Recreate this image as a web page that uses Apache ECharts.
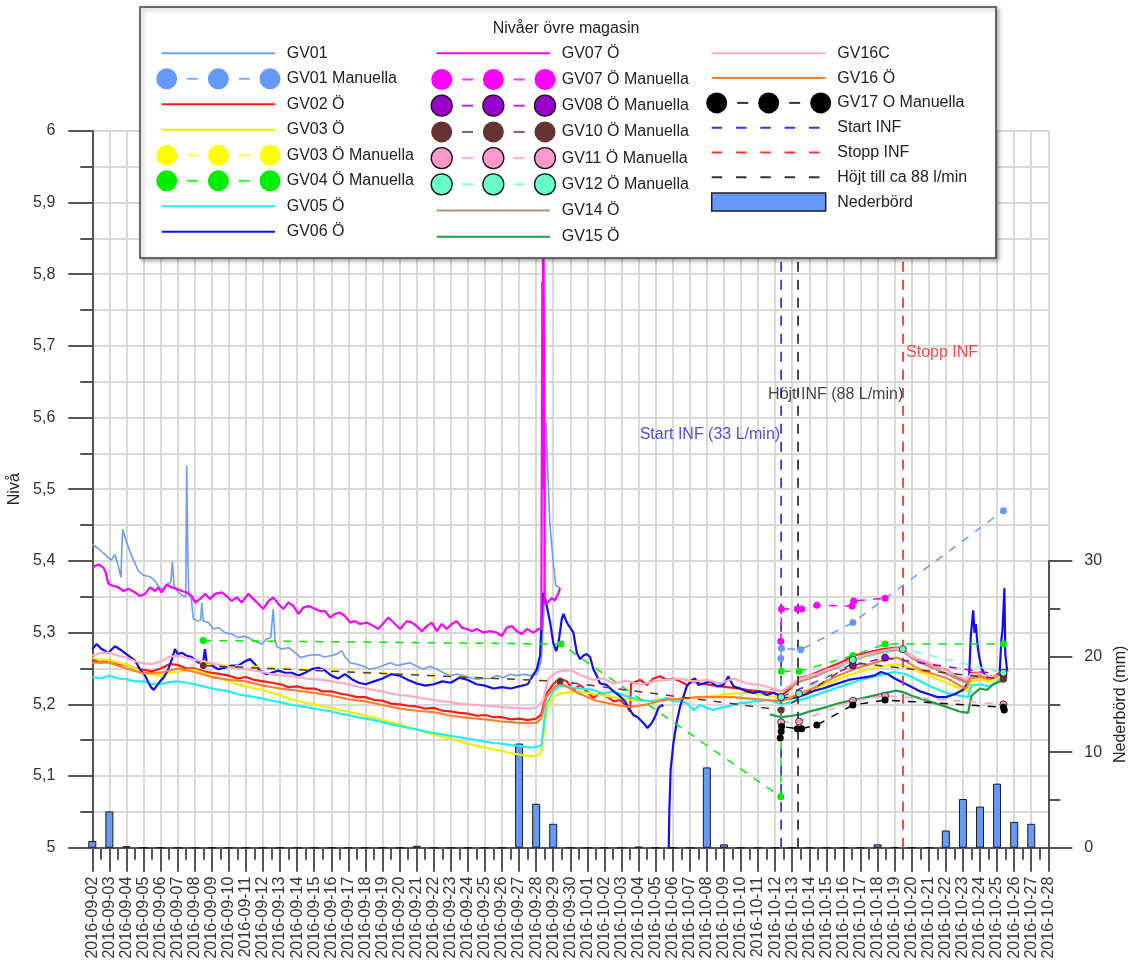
<!DOCTYPE html>
<html>
<head>
<meta charset="utf-8">
<title>Nivåer övre magasin</title>
<script src="https://cdn.jsdelivr.net/npm/echarts@6/dist/echarts.min.js"></script>
<style>
  html, body { margin: 0; padding: 0; background: #ffffff; }
  #chart { width: 1130px; height: 966px; }
</style>
</head>
<body>
<div id="chart"></div>
<script>
// Time axis: days since 2016-09-02 00:00, one tick per day up to 2016-10-28
const START_DATE = Date.UTC(2016, 8, 2);
const DAY_COUNT = 56;

// ---- Logger series: [day, level (m)] ----
const gv01 = [[0,5.423],[0.3,5.418],[0.74,5.409],[1.1,5.401],[1.33,5.409],[1.52,5.393],[1.68,5.377],[1.72,5.41],[1.78,5.444],[2.01,5.426],[2.3,5.407],[2.7,5.386],[2.99,5.38],[3.38,5.378],[3.67,5.372],[3.96,5.361],[4.2,5.362],[4.36,5.367],[4.6,5.37],[4.69,5.399],[4.8,5.363],[5.05,5.356],[5.33,5.351],[5.47,5.35],[5.53,5.533],[5.6,5.4],[5.65,5.352],[5.78,5.351],[5.92,5.319],[6.21,5.316],[6.35,5.318],[6.41,5.342],[6.5,5.316],[6.8,5.314],[7.09,5.305],[7.4,5.307],[7.77,5.3],[8.16,5.298],[8.55,5.293],[8.85,5.295],[9.14,5.293],[9.53,5.288],[9.92,5.284],[10.21,5.291],[10.45,5.293],[10.6,5.333],[10.7,5.29],[10.8,5.281],[11.09,5.277],[11.5,5.279],[11.88,5.272],[12.2,5.265],[12.46,5.267],[12.9,5.269],[13.24,5.269],[13.6,5.266],[14.02,5.268],[14.32,5.27],[14.61,5.275],[14.8,5.266],[15.1,5.258],[15.49,5.256],[15.88,5.253],[16.27,5.249],[16.66,5.251],[17.05,5.254],[17.44,5.258],[17.83,5.254],[18.22,5.256],[18.61,5.258],[19.0,5.253],[19.4,5.249],[19.79,5.253],[20.18,5.249],[20.57,5.244],[20.96,5.24],[21.35,5.242],[21.74,5.24],[22.13,5.237],[22.52,5.235],[22.91,5.236],[23.3,5.236],[23.69,5.24],[24.08,5.237],[24.47,5.242],[24.86,5.24],[25.25,5.242],[25.64,5.24],[26.04,5.242],[26.3,5.262],[26.45,5.33],[26.58,5.594],[26.7,5.513],[26.8,5.453],[27.0,5.397],[27.15,5.366],[27.4,5.362]];

const gv02 = [[0,5.262],[0.5,5.258],[1,5.262],[1.5,5.256],[2,5.255],[2.5,5.25],[3,5.248],[3.5,5.246],[4,5.25],[4.5,5.256],[5,5.255],[5.5,5.25],[6,5.25],[6.5,5.246],[7,5.244],[7.5,5.242],[8,5.24],[8.5,5.236],[9,5.238],[9.5,5.234],[10,5.232],[10.5,5.23],[11,5.228],[11.5,5.224],[12,5.225],[12.5,5.222],[13,5.222],[13.5,5.218],[14,5.218],[14.5,5.215],[15,5.213],[15.5,5.21],[16,5.21],[16.5,5.206],[17,5.205],[17.5,5.201],[18,5.2],[18.5,5.198],[19,5.197],[19.5,5.194],[20,5.195],[20.5,5.191],[21,5.19],[21.5,5.188],[22,5.187],[22.5,5.184],[23,5.185],[23.5,5.182],[24,5.182],[24.5,5.179],[25,5.18],[25.5,5.178],[26,5.18],[26.3,5.186],[26.6,5.215],[27,5.228],[27.4,5.236],[27.79,5.232],[28.18,5.22],[28.57,5.227],[28.96,5.218],[29.35,5.209],[29.74,5.216],[30.13,5.211],[30.53,5.204],[30.92,5.206],[31.31,5.197],[31.5,5.19],[31.56,5.229],[32.09,5.234],[32.48,5.227],[32.87,5.236],[33.26,5.239],[33.65,5.234],[34.04,5.236],[34.43,5.232],[34.82,5.227],[35.21,5.232],[35.6,5.229],[36.19,5.227],[36.78,5.225],[37.56,5.223],[38.34,5.22],[39.12,5.218],[39.9,5.216],[40.35,5.212],[40.8,5.22],[41.46,5.237],[42,5.24],[42.5,5.245],[43,5.25],[43.4,5.254],[44,5.26],[44.6,5.268],[45.4,5.272],[46.3,5.277],[47.1,5.279],[47.5,5.276],[47.9,5.268],[48.5,5.261],[49.3,5.254],[50.1,5.247],[50.8,5.236],[51.2,5.232],[51.45,5.244],[52,5.244],[52.5,5.238],[52.9,5.24],[53.2,5.244],[53.4,5.248],[53.6,5.246]];

const gv03 = [[0,5.265],[0.5,5.262],[1,5.262],[1.5,5.258],[2,5.255],[2.5,5.25],[3,5.245],[3.5,5.242],[4,5.24],[4.5,5.244],[5,5.245],[5.5,5.248],[6,5.248],[6.5,5.244],[7,5.24],[7.5,5.236],[8,5.232],[8.5,5.228],[9,5.225],[9.5,5.222],[10,5.22],[10.5,5.216],[11,5.213],[11.5,5.208],[12,5.205],[12.5,5.202],[13,5.2],[13.5,5.197],[14,5.195],[14.5,5.192],[15,5.19],[15.5,5.187],[16,5.184],[16.5,5.181],[17,5.178],[17.5,5.175],[18,5.172],[18.5,5.168],[19,5.165],[19.5,5.161],[20,5.158],[20.5,5.155],[21,5.152],[21.5,5.148],[22,5.145],[22.5,5.142],[23,5.14],[23.5,5.137],[24,5.135],[24.5,5.132],[25,5.13],[25.5,5.128],[26,5.128],[26.3,5.132],[26.6,5.19],[27,5.21],[27.4,5.215],[28.5,5.218],[29.5,5.214],[30.5,5.21],[31.5,5.206],[32.5,5.204],[33.5,5.208],[34.5,5.207],[35.5,5.21],[36.5,5.212],[37.5,5.215],[38.5,5.216],[39.5,5.213],[40.35,5.208],[41,5.212],[42,5.22],[43,5.228],[44,5.238],[45,5.246],[46,5.252],[47,5.256],[47.5,5.254],[48,5.25],[49,5.24],[50,5.23],[50.8,5.222],[51.3,5.218],[51.5,5.232],[52,5.235],[52.5,5.232],[53,5.236],[53.4,5.242],[53.6,5.243]];

const gv05 = [[0,5.238],[0.5,5.236],[1,5.24],[1.5,5.236],[2,5.235],[2.5,5.232],[3,5.232],[3.5,5.228],[4,5.228],[4.5,5.231],[5,5.232],[5.5,5.23],[6,5.228],[6.5,5.225],[7,5.222],[7.5,5.22],[8,5.218],[8.5,5.214],[9,5.212],[9.5,5.21],[10,5.208],[10.5,5.205],[11,5.203],[11.5,5.2],[12,5.198],[12.5,5.196],[13,5.194],[13.5,5.192],[14,5.19],[14.5,5.187],[15,5.185],[15.5,5.182],[16,5.18],[16.5,5.178],[17,5.175],[17.5,5.172],[18,5.17],[18.5,5.167],[19,5.165],[19.5,5.162],[20,5.16],[20.5,5.158],[21,5.156],[21.5,5.154],[22,5.152],[22.5,5.15],[23,5.148],[23.5,5.146],[24,5.145],[24.5,5.143],[25,5.142],[25.5,5.14],[26,5.14],[26.3,5.143],[26.6,5.2],[27,5.218],[27.4,5.226],[28.57,5.222],[29.35,5.22],[29.94,5.215],[30.53,5.218],[31.31,5.211],[32.09,5.206],[32.87,5.204],[33.26,5.206],[33.65,5.209],[34.04,5.204],[34.43,5.204],[34.82,5.202],[35.21,5.192],[35.6,5.199],[35.99,5.195],[36.38,5.192],[36.78,5.195],[37.17,5.197],[37.56,5.199],[37.95,5.202],[38.34,5.202],[38.73,5.204],[39.12,5.204],[39.51,5.206],[39.9,5.204],[40.35,5.2],[41,5.203],[42,5.21],[43,5.218],[44,5.226],[45,5.234],[46,5.24],[47,5.245],[47.5,5.243],[48,5.238],[49,5.226],[50,5.216],[50.8,5.212],[51.3,5.21],[51.5,5.226],[52,5.228],[52.5,5.225],[53,5.232],[53.4,5.24],[53.6,5.242]];

const gv06 = [[0,5.277],[0.25,5.284],[0.55,5.277],[0.94,5.272],[1.33,5.281],[1.72,5.275],[2.11,5.268],[2.5,5.261],[2.79,5.249],[3.09,5.24],[3.4,5.225],[3.6,5.22],[3.9,5.23],[4.2,5.238],[4.45,5.249],[4.65,5.262],[4.84,5.277],[5.0,5.27],[5.23,5.272],[5.5,5.268],[5.82,5.266],[6.21,5.258],[6.5,5.26],[6.6,5.277],[6.7,5.258],[7.0,5.254],[7.38,5.249],[7.77,5.251],[8.16,5.254],[8.55,5.254],[8.95,5.26],[9.24,5.263],[9.53,5.256],[9.82,5.247],[10.21,5.242],[10.5,5.244],[10.9,5.247],[11.29,5.244],[11.68,5.244],[12.07,5.24],[12.46,5.244],[12.85,5.249],[13.24,5.251],[13.63,5.247],[14.0,5.24],[14.4,5.236],[14.8,5.242],[15.2,5.235],[15.6,5.23],[16.0,5.228],[16.5,5.232],[17.0,5.236],[17.5,5.242],[18.0,5.24],[18.5,5.234],[19.0,5.229],[19.5,5.226],[20.0,5.228],[20.5,5.232],[21.0,5.23],[21.5,5.237],[22.0,5.234],[22.5,5.228],[23.0,5.226],[23.5,5.222],[24.0,5.224],[24.5,5.222],[25.0,5.225],[25.5,5.228],[26.04,5.249],[26.23,5.268],[26.39,5.355],[26.5,5.35],[26.62,5.337],[26.82,5.314],[27.0,5.286],[27.17,5.274],[27.3,5.284],[27.5,5.319],[27.6,5.326],[27.8,5.314],[27.99,5.307],[28.18,5.3],[28.38,5.272],[28.57,5.263],[28.77,5.268],[28.96,5.27],[29.16,5.266],[29.35,5.249],[29.55,5.24],[29.74,5.229],[30.13,5.227],[30.53,5.218],[30.92,5.211],[31.21,5.204],[31.5,5.192],[31.7,5.185],[31.99,5.181],[32.28,5.174],[32.52,5.167],[32.77,5.174],[32.97,5.183],[33.16,5.195],[33.36,5.199],[33.45,5.197],[33.6,'-'],[33.74,4.96],[33.8,5.05],[33.88,5.11],[34.04,5.146],[34.24,5.176],[34.43,5.197],[34.63,5.211],[34.82,5.225],[35.11,5.234],[35.31,5.236],[35.5,5.227],[35.8,5.229],[36.19,5.232],[36.58,5.225],[36.97,5.227],[37.26,5.239],[37.36,5.234],[37.56,5.225],[37.95,5.222],[38.34,5.218],[38.73,5.216],[39.12,5.218],[39.51,5.213],[39.9,5.216],[40.3,5.212],[40.8,5.208],[41.3,5.21],[41.8,5.214],[42.3,5.219],[42.8,5.222],[43.3,5.226],[43.8,5.23],[44.3,5.234],[44.8,5.236],[45.3,5.238],[45.8,5.24],[46.2,5.245],[46.6,5.242],[47.0,5.236],[47.5,5.23],[48.0,5.224],[48.5,5.218],[49.0,5.214],[49.5,5.21],[50.0,5.21],[50.5,5.214],[51.0,5.22],[51.35,5.232],[51.46,5.295],[51.6,5.331],[51.68,5.3],[51.75,5.312],[51.88,5.277],[51.98,5.263],[52.1,5.25],[52.3,5.24],[52.6,5.236],[52.9,5.238],[53.15,5.244],[53.25,5.29],[53.32,5.305],[53.43,5.362],[53.48,5.27],[53.6,5.245]];

const gv07 = [[0,5.391],[0.35,5.395],[0.64,5.391],[0.78,5.384],[0.94,5.368],[1.23,5.365],[1.52,5.363],[1.82,5.358],[2.11,5.361],[2.5,5.356],[2.79,5.351],[3.09,5.354],[3.38,5.363],[3.67,5.358],[3.87,5.363],[4.06,5.356],[4.36,5.367],[4.65,5.363],[4.94,5.361],[5.23,5.358],[5.53,5.356],[5.82,5.351],[6.02,5.342],[6.31,5.347],[6.6,5.354],[6.89,5.347],[7.19,5.354],[7.58,5.356],[7.87,5.351],[8.16,5.344],[8.46,5.349],[8.75,5.342],[9.14,5.354],[9.43,5.347],[9.73,5.34],[10.02,5.333],[10.31,5.344],[10.6,5.349],[10.9,5.34],[11.19,5.333],[11.48,5.342],[11.78,5.337],[12.07,5.326],[12.36,5.335],[12.66,5.337],[13.05,5.333],[13.34,5.33],[13.63,5.33],[13.93,5.321],[14.22,5.326],[14.51,5.328],[14.8,5.323],[15.1,5.314],[15.39,5.316],[15.68,5.312],[16.07,5.314],[16.47,5.309],[16.76,5.305],[17.15,5.316],[17.34,5.321],[17.64,5.314],[18.03,5.305],[18.42,5.316],[18.71,5.314],[19.0,5.309],[19.3,5.302],[19.59,5.309],[19.88,5.314],[20.18,5.302],[20.47,5.312],[20.76,5.305],[21.05,5.312],[21.35,5.316],[21.64,5.307],[21.93,5.305],[22.23,5.302],[22.52,5.305],[22.91,5.3],[23.3,5.302],[23.69,5.3],[23.98,5.295],[24.28,5.307],[24.57,5.309],[24.86,5.302],[25.16,5.298],[25.45,5.305],[25.84,5.3],[26.13,5.305],[26.3,5.305],[26.36,5.79],[26.38,5.5],[26.42,5.95],[26.5,5.34],[26.62,5.341],[26.91,5.348],[27.1,5.345],[27.3,5.355],[27.4,5.362]];

const gv14 = [[39.7,5.222],[40.35,5.218],[41,5.225],[41.46,5.232],[42,5.236],[42.5,5.24],[43,5.246],[43.5,5.25],[44,5.256],[44.6,5.262],[45.4,5.268],[46.3,5.273],[47.1,5.276],[47.5,5.273],[47.9,5.266],[48.5,5.258],[49.3,5.25],[50.1,5.242],[50.8,5.234],[51.2,5.23],[51.45,5.24],[52,5.24],[52.5,5.236],[52.9,5.238],[53.2,5.242],[53.4,5.245],[53.6,5.244]];

const gv15 = [[39.7,5.186],[40.35,5.182],[41,5.184],[41.5,5.186],[42,5.19],[42.5,5.193],[43,5.196],[43.5,5.2],[44,5.203],[44.6,5.206],[45.4,5.21],[46.3,5.215],[47.1,5.219],[47.5,5.217],[48,5.212],[48.5,5.208],[49.3,5.202],[50.1,5.196],[50.8,5.19],[51.3,5.188],[51.5,5.212],[52,5.222],[52.4,5.22],[52.8,5.228],[53.2,5.232],[53.4,5.236],[53.6,5.238]];

const gv16c = [[0,5.268],[0.5,5.272],[1,5.272],[1.5,5.268],[2,5.265],[2.5,5.26],[3,5.257],[3.5,5.256],[4,5.26],[4.5,5.266],[5,5.268],[5.5,5.265],[6,5.262],[6.5,5.26],[7,5.257],[7.5,5.255],[8,5.252],[8.5,5.25],[9,5.249],[9.5,5.247],[10,5.245],[10.5,5.242],[11,5.24],[11.5,5.24],[12,5.238],[12.5,5.236],[13,5.235],[13.5,5.234],[14,5.232],[14.5,5.23],[15,5.228],[15.5,5.225],[16,5.222],[16.5,5.22],[17,5.218],[17.5,5.215],[18,5.213],[18.5,5.212],[19,5.21],[19.5,5.208],[20,5.206],[20.5,5.204],[21,5.203],[21.5,5.201],[22,5.2],[22.5,5.199],[23,5.198],[23.5,5.197],[24,5.196],[24.5,5.195],[25,5.195],[25.5,5.194],[26,5.195],[26.4,5.205],[26.7,5.235],[27.2,5.245],[27.4,5.246],[28.0,5.248],[28.57,5.241],[29.35,5.234],[29.95,5.236],[30.53,5.229],[31.3,5.233],[32.09,5.227],[32.87,5.232],[33.65,5.234],[34.43,5.236],[35.21,5.232],[36.0,5.234],[36.78,5.229],[37.56,5.236],[38.34,5.229],[39.12,5.227],[39.9,5.222],[40.35,5.218],[40.8,5.225],[41.46,5.236],[42,5.24],[42.5,5.243],[43,5.248],[43.5,5.252],[44,5.257],[44.6,5.263],[45.4,5.27],[46.3,5.275],[47.1,5.278],[47.5,5.275],[47.9,5.268],[48.5,5.262],[49.3,5.255],[50.1,5.246],[50.8,5.238],[51.2,5.234],[51.45,5.242],[52,5.243],[52.5,5.238],[52.9,5.24],[53.2,5.243],[53.4,5.246],[53.6,5.245]];

const gv16 = [[0,5.258],[1,5.258],[2,5.25],[3,5.243],[4,5.244],[5,5.25],[6,5.245],[7,5.238],[8,5.234],[9,5.232],[10,5.226],[11,5.222],[12,5.219],[13,5.216],[14,5.212],[15,5.207],[16,5.204],[17,5.199],[18,5.194],[19,5.191],[20,5.189],[21,5.184],[22,5.181],[23,5.179],[24,5.176],[25,5.174],[26,5.174],[26.3,5.18],[26.6,5.21],[27,5.222],[27.4,5.23],[28.5,5.215],[29.5,5.205],[30.5,5.2],[31.5,5.196],[32.5,5.2],[33.5,5.206],[34.5,5.208],[35.5,5.21],[36.5,5.21],[37.5,5.21],[38.5,5.208],[39.5,5.206],[40.35,5.204],[41,5.21],[41.46,5.216],[42,5.22],[42.5,5.226],[43,5.232],[43.5,5.238],[44,5.243],[44.6,5.249],[45.4,5.255],[46.3,5.261],[47.1,5.265],[47.5,5.262],[48,5.255],[48.5,5.248],[49.3,5.242],[50.1,5.236],[50.8,5.226],[51.2,5.222],[51.45,5.236],[52,5.238],[52.5,5.235],[52.9,5.238],[53.2,5.243],[53.4,5.247],[53.6,5.246]];

// ---- Manual readings: [day, level (m)] ----
const gv01Man = [[40.33,5.264],[40.37,5.278],[41.5,5.276],[44.55,5.314],[53.37,5.47]];
const gv03Man = [[6.5,5.256],[27.4,5.232]];
const gv04Man = [[6.5,5.289],[27.45,5.284],[40.33,5.071],[40.37,5.246],[41.4,5.246],[44.55,5.268],[46.44,5.284],[53.37,5.284]];
const gv07Man = [[40.33,5.288],[40.37,5.333],[41.3,5.333],[41.55,5.333],[42.44,5.338],[44.5,5.337],[44.6,5.344],[46.44,5.348]];
const gv08Man = [[40.35,5.21],[44.55,5.254],[46.44,5.265],[53.37,5.241]];
const gv10Man = [[6.5,5.254],[27.4,5.232],[40.35,5.192],[44.55,5.258],[53.37,5.235]];
const gv11Man = [[40.35,5.175],[41.4,5.176],[44.55,5.205],[46.44,5.212],[53.37,5.2]];
const gv12Man = [[40.35,5.21],[41.4,5.215],[44.55,5.262],[47.48,5.277],[53.37,5.244]];
const gv17Man = [[40.3,5.153],[40.35,5.162],[40.38,5.169],[41.3,5.166],[41.55,5.166],[42.44,5.171],[44.55,5.199],[46.44,5.206],[53.37,5.196],[53.42,5.192]];

// ---- Infiltration events (day) ----
const startInf = 40.35;
const hojtInf = 41.34;
const stoppInf = 47.49;
const eventLabels = [
  { text: 'Start INF (33 L/min)', at: [startInf, 5.5756], side: 'left', color: '#2020e0' },
  { text: 'Höjt INF (88 L/min)', at: [39.41, 5.6314], side: 'right', color: '#111111' },
  { text: 'Stopp INF', at: [stoppInf, 5.6899], side: 'right', color: '#ff1a1a' }
];

// ---- Daily precipitation (mm), one value per day from 2016-09-02 ----
const nederbord = [0.7,3.8,0.15,0,0,0,0,0,0,0,0,0,0,0,0,0,0,0,0,0.2,0,0,0,0,0,10.9,4.6,2.5,0,0,0,0,0.1,0,0,0,8.4,0.35,0,0,0,0,0,0,0,0,0.35,0.05,0,0,1.8,5.1,4.3,6.7,2.7,2.5];

// ---- Styling ----
const FONT_FAMILY = '"Liberation Sans", Arial, sans-serif';
const FONT = '16px ' + FONT_FAMILY;
const AXIS_COLOR = '#555555';
const GRID_COLOR = '#d9d9d9';

const seriesStyle = {
  'GV01':                 { color: '#6d9cf3', width: 1.6 },
  'GV01 Manuella':        { color: '#6699ff' },
  'GV02 Ö':               { color: '#ff1a1a' },
  'GV03 Ö':               { color: '#f2ee00' },
  'GV03 Ö Manuella':      { color: '#ffff00' },
  'GV04 Ö Manuella':      { color: '#00ee00' },
  'GV05 Ö':               { color: '#22f0f0' },
  'GV06 Ö':               { color: '#1010ee' },
  'GV07 Ö':               { color: '#ff00ff' },
  'GV07 Ö Manuella':      { color: '#ff00ff' },
  'GV08 Ö Manuella':      { color: '#9900cc', border: '#111111' },
  'GV10 Ö Manuella':      { color: '#663333' },
  'GV11 Ö Manuella':      { color: '#ff99cc', border: '#111111' },
  'GV12 Ö Manuella':      { color: '#66ffcc', border: '#111111' },
  'GV14 Ö':               { color: '#c09070' },
  'GV15 Ö':               { color: '#1e9e3e' },
  'GV16C':                { color: '#ffaacc' },
  'GV16 Ö':               { color: '#ff8033' },
  'GV17 O Manuella':      { color: '#000000' },
  'Start INF':            { color: '#3333ff' },
  'Stopp INF':            { color: '#ff3333' },
  'Höjt till ca 88 l/min':{ color: '#333333' },
  'Nederbörd':            { color: '#6699ff' }
};

const loggerSeries = [
  ['GV01', gv01], ['GV02 Ö', gv02], ['GV03 Ö', gv03], ['GV05 Ö', gv05], ['GV06 Ö', gv06],
  ['GV07 Ö', gv07], ['GV14 Ö', gv14], ['GV15 Ö', gv15], ['GV16C', gv16c], ['GV16 Ö', gv16]
];
const manualSeries = [
  ['GV01 Manuella', gv01Man], ['GV03 Ö Manuella', gv03Man], ['GV04 Ö Manuella', gv04Man],
  ['GV07 Ö Manuella', gv07Man], ['GV08 Ö Manuella', gv08Man], ['GV10 Ö Manuella', gv10Man],
  ['GV11 Ö Manuella', gv11Man], ['GV12 Ö Manuella', gv12Man], ['GV17 O Manuella', gv17Man]
];
const eventLines = [
  ['Start INF', startInf], ['Höjt till ca 88 l/min', hojtInf], ['Stopp INF', stoppInf]
];

// ---- Legend layout ----
const legendBox = { x: 140, y: 7, width: 856, height: 251 };
const legendTitle = { text: 'Nivåer övre magasin', x: 566, y: 29 };
const legendCols = [
  { x1: 161.7, x2: 275, textX: 286.7, y0: 53.3, dy: 25.5 },
  { x1: 436.7, x2: 550, textX: 561.7, y0: 53.3, dy: 26.2 },
  { x1: 711.7, x2: 825.7, textX: 837.3, y0: 53.3, dy: 24.8 }
];
const legendEntries = [
  ['GV01', 'line', 0], ['GV01 Manuella', 'manual', 0], ['GV02 Ö', 'line', 0], ['GV03 Ö', 'line', 0],
  ['GV03 Ö Manuella', 'manual', 0], ['GV04 Ö Manuella', 'manual', 0], ['GV05 Ö', 'line', 0], ['GV06 Ö', 'line', 0],
  ['GV07 Ö', 'line', 1], ['GV07 Ö Manuella', 'manual', 1], ['GV08 Ö Manuella', 'manual', 1], ['GV10 Ö Manuella', 'manual', 1],
  ['GV11 Ö Manuella', 'manual', 1], ['GV12 Ö Manuella', 'manual', 1], ['GV14 Ö', 'line', 1], ['GV15 Ö', 'line', 1],
  ['GV16C', 'line', 2], ['GV16 Ö', 'line', 2], ['GV17 O Manuella', 'manual', 2], ['Start INF', 'event', 2],
  ['Stopp INF', 'event', 2], ['Höjt till ca 88 l/min', 'event', 2], ['Nederbörd', 'bar', 2]
];

function buildLegend() {
  const els = [];
  els.push({ type: 'rect', shape: { x: legendBox.x, y: legendBox.y, width: legendBox.width, height: legendBox.height },
    style: { fill: '#ffffff', stroke: '#444444', lineWidth: 1.5, shadowBlur: 4, shadowOffsetX: 2, shadowOffsetY: 2, shadowColor: 'rgba(0,0,0,0.35)' } });
  els.push({ type: 'text', x: legendTitle.x, y: legendTitle.y,
    style: { text: legendTitle.text, font: FONT, fill: '#222222', align: 'center', verticalAlign: 'middle' } });
  const rows = [0, 0, 0];
  legendEntries.forEach(([name, kind, col]) => {
    const c = legendCols[col];
    const y = c.y0 + c.dy * rows[col]++;
    const st = seriesStyle[name];
    if (kind === 'line') {
      els.push({ type: 'line', shape: { x1: c.x1, y1: y, x2: c.x2, y2: y }, style: { stroke: st.color, lineWidth: 2 } });
    } else if (kind === 'manual') {
      const xs = [c.x1 + 5, (c.x1 + c.x2) / 2, c.x2 - 5];
      for (let k = 0; k < 2; k++) {
        const m = (xs[k] + xs[k + 1]) / 2;
        els.push({ type: 'line', shape: { x1: m - 5.5, y1: y, x2: m + 5.5, y2: y }, style: { stroke: st.color, lineWidth: 2, opacity: 0.8 } });
      }
      xs.forEach(x => els.push({ type: 'circle', shape: { cx: x, cy: y, r: 10.5 },
        style: { fill: st.color, stroke: st.border || st.color, lineWidth: st.border ? 1.3 : 0 } }));
    } else if (kind === 'event') {
      els.push({ type: 'line', shape: { x1: c.x1, y1: y, x2: c.x2, y2: y }, style: { stroke: st.color, lineWidth: 2, lineDash: [10.5, 13.8] } });
    } else if (kind === 'bar') {
      els.push({ type: 'rect', shape: { x: c.x1, y: y - 9, width: c.x2 - c.x1, height: 18 }, style: { fill: st.color, stroke: '#222222', lineWidth: 1.5 } });
    }
    els.push({ type: 'text', x: c.textX, y: y, style: { text: name, font: FONT, fill: '#222222', verticalAlign: 'middle' } });
  });
  return els.map(el => Object.assign(el, { z: 100, silent: true }));
}

function dayLabel(d) {
  return new Date(START_DATE + Math.round(d) * 864e5).toISOString().slice(0, 10);
}

// ---- Series ----
const series = [];
loggerSeries.forEach(([name, data]) => {
  const st = seriesStyle[name];
  series.push({ name, type: 'line', xAxisIndex: 0, yAxisIndex: 0, data, showSymbol: false, symbol: 'none',
    connectNulls: false, z: 2, lineStyle: { color: st.color, width: st.width || 2.2 } });
});
eventLines.forEach(([name, day]) => {
  series.push({ name, type: 'line', xAxisIndex: 0, yAxisIndex: 0, data: [[day, 5], [day, 6]], symbol: 'none', z: 3,
    lineStyle: { color: seriesStyle[name].color, width: 1.8, type: [10, 8] } });
});
manualSeries.forEach(([name, data]) => {
  const st = seriesStyle[name];
  series.push({ name, type: 'line', xAxisIndex: 0, yAxisIndex: 0, data, symbol: 'circle', symbolSize: 7, showSymbol: true, z: 4,
    lineStyle: { color: st.color, width: 1.5, type: [8, 8] },
    itemStyle: { color: st.color, borderColor: st.border || st.color, borderWidth: st.border ? 0.8 : 0 } });
});
series.push({ name: 'event labels', type: 'scatter', xAxisIndex: 0, yAxisIndex: 0, symbolSize: 0, z: 5,
  data: eventLabels.map(e => ({ value: e.at, label: { show: true, formatter: e.text, position: e.side, distance: e.side === 'left' ? 1 : 3, color: e.color } })),
  label: { fontSize: 16, fontFamily: FONT_FAMILY } });
series.push({ name: 'Nederbörd', type: 'bar', xAxisIndex: 1, yAxisIndex: 1, clip: false, barWidth: 8, z: 2,
  data: nederbord.map((v, i) => [i, v]),
  itemStyle: { color: seriesStyle['Nederbörd'].color, borderColor: '#1a1a1a', borderWidth: 1 } });

const axisLineStyle = { color: AXIS_COLOR, width: 2 };
const gridLine = { show: true, lineStyle: { color: GRID_COLOR, width: 2 } };

const option = {
  animation: false,
  backgroundColor: '#ffffff',
  textStyle: { fontFamily: FONT_FAMILY },
  grid: [
    { left: 92.3, right: 81.7, top: 130.7, bottom: 118.3, containLabel: false, outerBoundsMode: 'none' },
    { left: 92.3, right: 81.7, top: 561, bottom: 118.3, containLabel: false, outerBoundsMode: 'none' }
  ],
  xAxis: [
    { type: 'value', gridIndex: 0, min: 0, max: DAY_COUNT, interval: 1,
      axisLine: { show: true, onZero: false, lineStyle: axisLineStyle },
      axisTick: { show: true, length: 24, lineStyle: axisLineStyle },
      minorTick: { show: true, splitNumber: 2, length: 12, lineStyle: axisLineStyle },
      axisLabel: { rotate: 90, margin: 29, fontSize: 16, color: '#333333', formatter: dayLabel },
      splitLine: gridLine },
    { type: 'value', gridIndex: 1, min: 0, max: DAY_COUNT, show: false }
  ],
  yAxis: [
    { type: 'value', gridIndex: 0, min: 5, max: 6, interval: 0.1,
      name: 'Nivå', nameLocation: 'middle', nameGap: 63, nameRotate: 90,
      nameTextStyle: { fontSize: 16, color: '#222222' },
      axisLine: { show: true, onZero: false, lineStyle: axisLineStyle },
      axisTick: { show: true, length: 24, lineStyle: axisLineStyle },
      minorTick: { show: true, splitNumber: 2, length: 12, lineStyle: axisLineStyle },
      axisLabel: { margin: 37, fontSize: 16, color: '#333333', formatter: v => String(Math.round(v * 10) / 10).replace('.', ',') },
      splitLine: gridLine,
      minorSplitLine: gridLine },
    { type: 'value', gridIndex: 1, position: 'right', min: 0, max: 30, interval: 10,
      name: 'Nederbörd (mm)', nameLocation: 'middle', nameGap: 64, nameRotate: 90,
      nameTextStyle: { fontSize: 16, color: '#222222' },
      axisLine: { show: true, onZero: false, lineStyle: axisLineStyle },
      axisTick: { show: true, length: 24, lineStyle: axisLineStyle },
      minorTick: { show: true, splitNumber: 2, length: 12, lineStyle: axisLineStyle },
      axisLabel: { margin: 36, fontSize: 16, color: '#333333' },
      splitLine: { show: false } }
  ],
  graphic: buildLegend(),
  series
};

const chart = echarts.init(document.getElementById('chart'), null, { renderer: 'canvas' });
chart.setOption(option);
</script>
</body>
</html>
